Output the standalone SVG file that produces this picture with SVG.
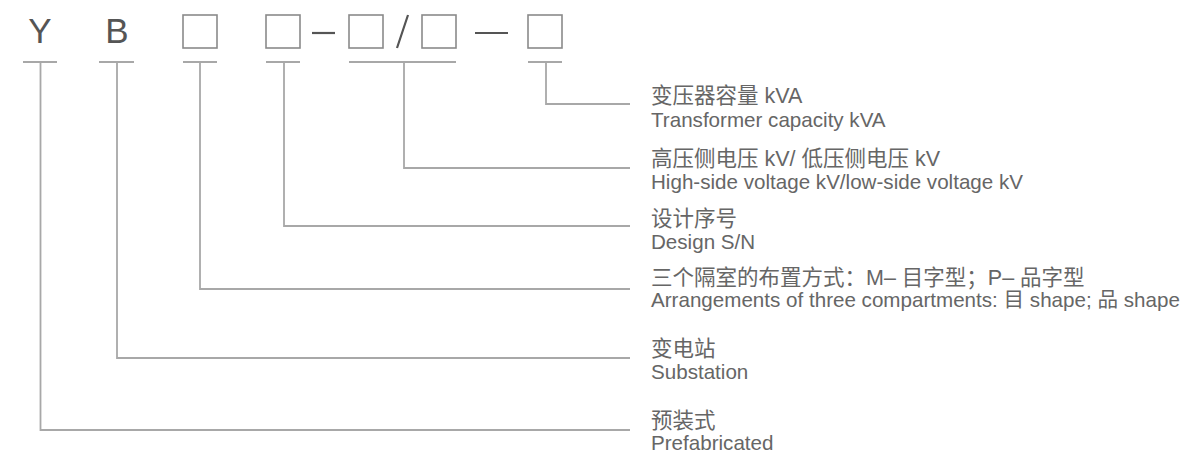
<svg xmlns="http://www.w3.org/2000/svg" width="1185" height="453" viewBox="0 0 1185 453">
<style>
.code{font-family:"Liberation Sans","Noto Sans CJK SC",sans-serif;font-size:35px;fill:#555;}
.box{fill:none;stroke:#8a8a8a;stroke-width:1.6;}
.sep{stroke:#555;stroke-width:2.2;fill:none;}
.conn{fill:none;stroke:#a8a8a8;stroke-width:1.8;}
.cn{font-family:"Liberation Sans","Noto Sans CJK SC",sans-serif;font-size:21.5px;fill:#666;}
.en{font-family:"Liberation Sans","Noto Sans CJK SC",sans-serif;font-size:20.6px;fill:#666;}
</style>
<rect width="1185" height="453" fill="#fff"/>
<g id="code">
<text class="code" x="40" y="43" text-anchor="middle">Y</text>
<text class="code" x="117" y="43" text-anchor="middle">B</text>
<rect class="box" x="183" y="15" width="34" height="33"/>
<rect class="box" x="266" y="15" width="34" height="33"/>
<line class="sep" x1="312" y1="33" x2="335" y2="33"/>
<rect class="box" x="349" y="15" width="34" height="33"/>
<line class="sep" x1="408" y1="15" x2="397" y2="48" stroke-width="1.6"/>
<rect class="box" x="422" y="15" width="34" height="33"/>
<line class="sep" x1="475" y1="33" x2="508" y2="33"/>
<rect class="box" x="528" y="15" width="34" height="33"/>
</g>
<g id="connectors">
<path class="conn" d="M23 62H57M40.5 62V430H630"/>
<path class="conn" d="M99 62H134M117 62V358H630"/>
<path class="conn" d="M183 62H217M200 62V289H630"/>
<path class="conn" d="M266 62H300M284 62V226H630"/>
<path class="conn" d="M349 62H456M404 62V168H630"/>
<path class="conn" d="M528 62H562M546 62V104H630"/>
</g>
<g id="label-capacity">
<text class="cn" x="651" y="103">变压器容量 kVA</text>
<text class="en" x="651" y="127">Transformer capacity kVA</text>
</g>
<g id="label-voltage">
<text class="cn" x="651" y="166">高压侧电压 kV/ 低压侧电压 kV</text>
<text class="en" x="651" y="189">High-side voltage kV/low-side voltage kV</text>
</g>
<g id="label-design">
<text class="cn" x="651" y="226">设计序号</text>
<text class="en" x="651" y="249">Design S/N</text>
</g>
<g id="label-arrangement">
<text class="cn" x="651" y="285">三个隔室的布置方式：M– 目字型；P– 品字型</text>
<text class="en" x="651" y="307">Arrangements of three compartments: 目 shape; 品 shape</text>
</g>
<g id="label-substation">
<text class="cn" x="651" y="356">变电站</text>
<text class="en" x="651" y="379">Substation</text>
</g>
<g id="label-prefab">
<text class="cn" x="651" y="428">预装式</text>
<text class="en" x="651" y="450">Prefabricated</text>
</g>
</svg>
